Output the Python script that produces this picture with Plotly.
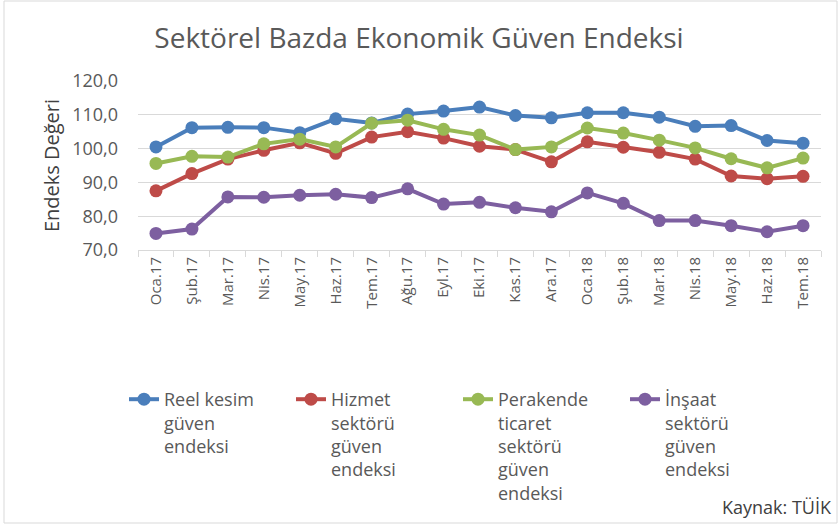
import plotly.graph_objects as go

months = ["Oca.17", "Şub.17", "Mar.17", "Nis.17", "May.17", "Haz.17", "Tem.17", "Ağu.17",
          "Eyl.17", "Eki.17", "Kas.17", "Ara.17", "Oca.18", "Şub.18", "Mar.18", "Nis.18",
          "May.18", "Haz.18", "Tem.18"]
reel = [100.5, 106.2, 106.3, 106.2, 104.7, 108.8, 107.6, 110.2, 111.1, 112.3, 109.8, 109.1,
        110.6, 110.6, 109.3, 106.6, 106.8, 102.4, 101.6]
hizmet = [87.5, 92.6, 96.9, 99.5, 101.7, 98.6, 103.4, 105.0, 103.1, 100.7, 99.7, 96.1,
          102.0, 100.4, 98.9, 96.9, 91.9, 91.1, 91.8]
perakende = [95.6, 97.7, 97.5, 101.4, 102.8, 100.5, 107.5, 108.4, 105.7, 104.0, 99.7, 100.5,
             106.1, 104.6, 102.5, 100.2, 97.0, 94.3, 97.2]
insaat = [74.9, 76.2, 85.7, 85.6, 86.2, 86.5, 85.5, 88.1, 83.6, 84.1, 82.5, 81.3,
          86.9, 83.8, 78.7, 78.7, 77.2, 75.4, 77.2]

names = ["Reel kesim<br>güven<br>endeksi",
         "Hizmet<br>sektörü<br>güven<br>endeksi",
         "Perakende<br>ticaret<br>sektörü<br>güven<br>endeksi",
         "İnşaat<br>sektörü<br>güven<br>endeksi"]
colors = ["#4A7EBB", "#BE4B48", "#98B954", "#7D5FA0"]
series = [reel, hizmet, perakende, insaat]

FONT = "Open Sans"
GRAY = "#595959"

fig = go.Figure()
for name, vals, col in zip(names, series, colors):
    fig.add_trace(go.Scatter(x=months, y=vals, name=name, mode="lines+markers",
                             line=dict(color=col, width=4),
                             marker=dict(color=col, size=13)))

W, H = 838, 527
L, R, T, B = 138, 17, 81, 277
pw, ph = W - L - R, H - T - B

def px(x):
    return (x - L) / pw

def py(y):
    return (H - B - y) / ph

fig.update_layout(
    width=W, height=H,
    margin=dict(l=L, r=R, t=T, b=B, autoexpand=False),
    paper_bgcolor="white", plot_bgcolor="white",
    separators=",.",
    font=dict(family=FONT, color=GRAY),
    title=dict(text="Sektörel Bazda Ekonomik Güven Endeksi", x=0.5, xanchor="center",
               y=1 - 38 / H, yanchor="middle",
               font=dict(family=FONT, size=28, color=GRAY)),
    showlegend=True,
    legend=dict(orientation="h", x=px(124), xanchor="left", y=py(381), yanchor="top",
                entrywidth=122, entrywidthmode="pixels",
                font=dict(family=FONT, size=18, color=GRAY),
                valign="top", tracegroupgap=0),
    xaxis=dict(showgrid=False, showline=True, linecolor="#d9d9d9", linewidth=1,
               ticks="outside", tickson="boundaries", ticklen=6, tickcolor="#d9d9d9",
               tickangle=-90, tickfont=dict(family=FONT, size=15, color=GRAY),
               range=[-0.5, len(months) - 0.5]),
    yaxis=dict(range=[70, 120], dtick=10, tickformat=".1f", showgrid=True,
               gridcolor="#d9d9d9", gridwidth=1, zeroline=False, showline=False,
               ticklabelstandoff=19,
               tickfont=dict(family=FONT, size=18, color=GRAY),
               title=dict(text="Endeks Değeri", font=dict(family=FONT, size=20, color="#404040"),
                          standoff=7)),
    annotations=[dict(text="Kaynak: TÜİK", xref="paper", yref="paper",
                      x=px(834), y=py(507), xanchor="right", yanchor="middle",
                      showarrow=False, font=dict(family=FONT, size=18, color="#404040"))],
    shapes=[dict(type="rect", xref="paper", yref="paper",
                 x0=px(4), x1=px(837), y0=py(523), y1=py(1),
                 line=dict(color="#d9d9d9", width=1))],
)

fig.write_html("out.html", config={"displayModeBar": False},
               post_script="document.body.style.margin='0';")
